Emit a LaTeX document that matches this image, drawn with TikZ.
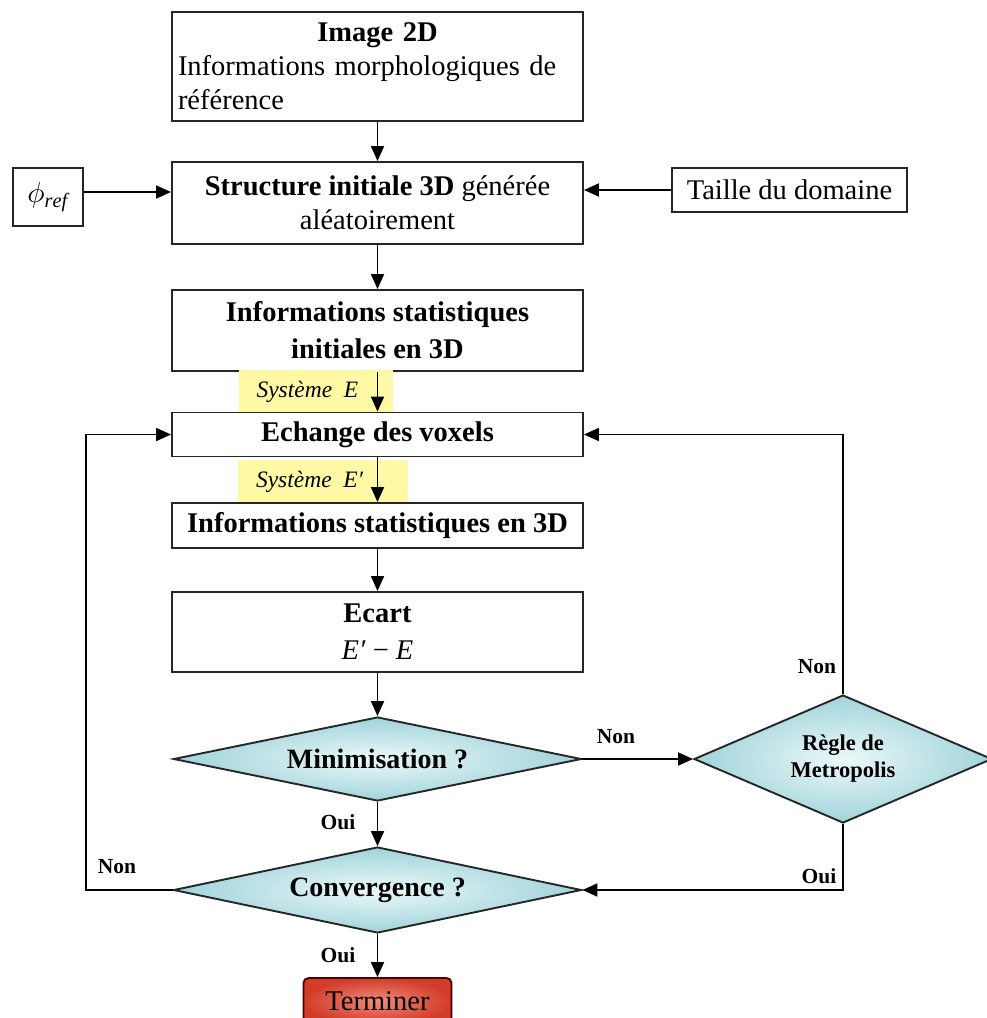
\documentclass[tikz,border=0pt]{standalone}
\usepackage{fontspec}
\usepackage{graphicx}
\setmainfont{Liberation Serif}
\usetikzlibrary{arrows.meta,shapes.geometric}
\definecolor{diaout}{RGB}{160,212,218}
\definecolor{diain}{RGB}{236,248,249}
\definecolor{hlyel}{RGB}{255,249,165}
\definecolor{redout}{RGB}{210,60,42}
\definecolor{redin}{RGB}{240,140,120}
\begin{document}
\begin{tikzpicture}[x=1pt,y=-1pt,
  box/.style={draw=black!85, line width=1.9pt, rectangle, minimum width=411pt, inner sep=0pt, align=center, font=\fontsize{28.5}{34}\selectfont},
  smallbox/.style={draw=black!85, line width=1.9pt, rectangle, inner sep=0pt, align=center, font=\fontsize{28.5}{34}\selectfont},
  dec/.style={diamond, draw=black!85, line width=1.9pt, shade, shading=radial, inner color=diain, outer color=diaout, inner sep=0pt, align=center},
  arr/.style={line width=1.9pt, -{Triangle[length=15pt,width=13pt]}},
  lbl/.style={font=\fontsize{21.5}{24}\selectfont\bfseries},
  hl/.style={fill=hlyel, minimum height=43pt, inner ysep=0pt, inner xsep=18pt, align=left, font=\fontsize{23.5}{26}\selectfont\itshape}
]
\useasboundingbox (0,0) rectangle (986,1018);

% main column
\node[box, minimum height=109pt, text width=399pt, align=center] (img) at (377.5,66.5)
  {\textbf{Image 2D}\\\makebox[399pt][s]{Informations morphologiques de}\\\makebox[399pt][l]{référence}};
\node[box, minimum height=82pt] (init) at (377.5,203) {\textbf{Structure initiale 3D} générée\\aléatoirement};
\node[box, minimum height=81pt, font=\fontsize{28.5}{37}\selectfont\bfseries] (stat0) at (377.5,330.5) {Informations statistiques\\initiales en 3D};
\node[hl, text width=118pt] (hlA) at (315.5,391.5) {Système\enspace E};
\node[box, minimum height=44pt, font=\fontsize{28.5}{34}\selectfont\bfseries] (ech) at (377.5,434.5) {Echange des voxels};
\node[hl, text width=134pt] (hlB) at (323,481.5) {Système\enspace E′};
\node[box, minimum height=45pt, font=\fontsize{28.5}{34}\selectfont\bfseries] (stat) at (377.5,525.5) {Informations statistiques en 3D};
\node[box, minimum height=80pt, font=\fontsize{28.5}{37}\selectfont] (ecart) at (377.5,632) {\textbf{Ecart}\\\textit{E′} − \textit{E}};
\node[dec, aspect=4.86, minimum width=408pt, minimum height=84pt, font=\fontsize{28}{32}\selectfont\bfseries] (mini) at (377.5,759) {Minimisation ?};
\node[dec, aspect=4.74, minimum width=408pt, minimum height=86pt, font=\fontsize{28}{32}\selectfont\bfseries] (conv) at (377.5,890) {Convergence ?};
\node[dec, aspect=2.33, minimum width=298pt, minimum height=128pt, font=\fontsize{22.5}{27}\selectfont\bfseries] (metro) at (843,759) {Règle de\\Metropolis};
\node[draw=black!70!red, line width=1.9pt, rounded corners=5pt, shade, shading=radial, inner color=redin, outer color=redout, minimum width=148pt, minimum height=46pt, inner sep=0pt, font=\fontsize{28.5}{34}\selectfont] (term) at (377.5,1001) {Terminer};

% side inputs
\node[smallbox, minimum width=70pt, minimum height=58pt, font=\fontsize{10}{12}\selectfont] (phi) at (48,197) {\scalebox{2.9}{$\phi_{\mathit{ref}}$}};
\node[smallbox, minimum width=235pt, minimum height=44pt] (taille) at (789.5,190) {Taille du domaine};

\coordinate (lp) at (86,890);

% connectors
\draw[arr] (img) -- (init);
\draw[arr] ([yshift=5pt]phi.east) -- ([yshift=5pt]phi.east -| init.west);
\draw[arr] (taille.west) -- (taille.west -| init.east);
\draw[arr] (init) -- (stat0);
\draw[arr] (stat0) -- (ech);
\draw[arr] (ech) -- (stat);
\draw[arr] (stat) -- (ecart);
\draw[arr] (ecart) -- (mini);
\draw[arr] (mini) -- (conv);
\draw[arr] (conv) -- (term);
\draw[arr] (mini.east) -- (metro.west);
\draw[arr] (metro.north) |- (ech.east);
\draw[arr] (metro.south) |- (conv.east);
\draw[arr] (conv.west) -- (lp) |- (ech.west);

% labels
\node[lbl] (l1) at (616,737) {Non};
\node[lbl] (l2) at (817,667) {Non};
\node[lbl] (l3) at (819,876) {Oui};
\node[lbl] (l4) at (338,822) {Oui};
\node[lbl] (l5) at (117,867) {Non};
\node[lbl] (l6) at (338,955) {Oui};
\end{tikzpicture}
\end{document}
